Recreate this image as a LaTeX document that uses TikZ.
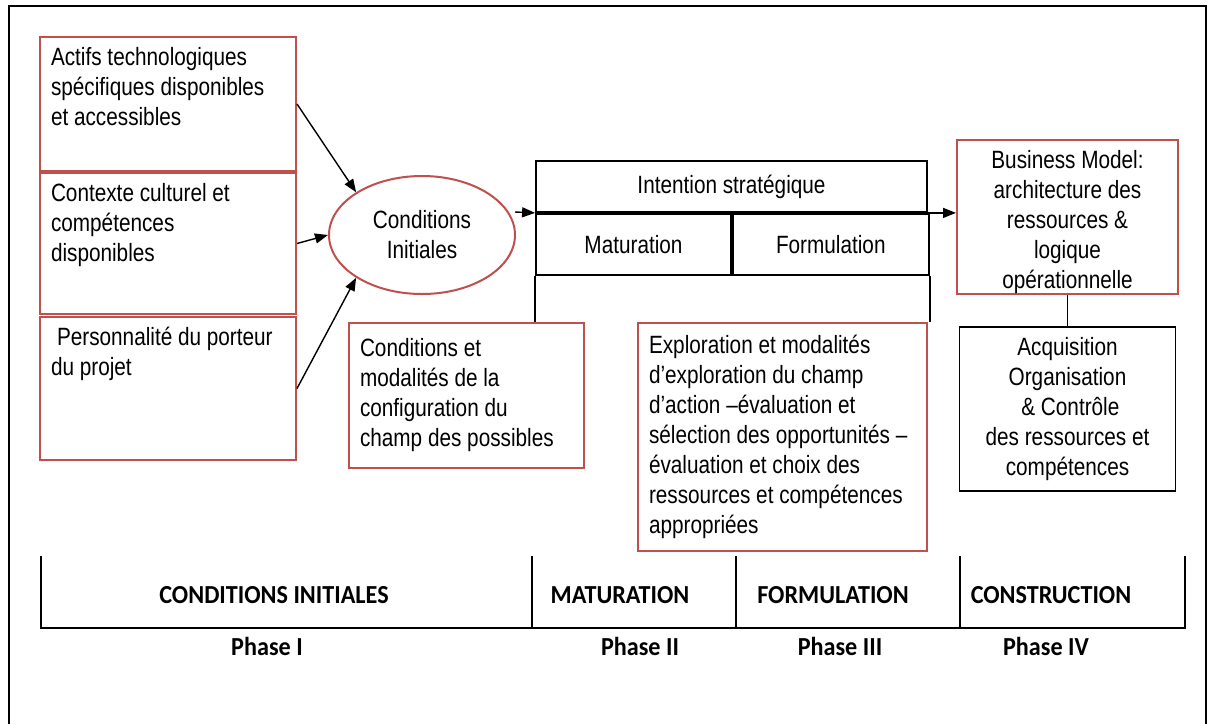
\documentclass[tikz,border=0pt]{standalone}
\usepackage{fontspec}
\setmainfont[FakeStretch=0.83]{Liberation Sans}
\newfontfamily\tablefont[FakeStretch=0.93]{Carlito}
\usepackage{tikz}
\usetikzlibrary{shapes.geometric, arrows.meta, positioning}
\definecolor{boxred}{HTML}{C0504D}
\newcommand{\toptext}[3]{\begin{minipage}[c][#2][t]{#1}#3\end{minipage}}

\begin{document}
\begin{tikzpicture}[x=1pt, y=-1pt, font=\fontsize{25}{30}\selectfont,
    redbox/.style={draw=boxred, line width=2pt, rectangle, inner xsep=11pt},
    blackbox/.style={draw=black, line width=1.8pt, rectangle, inner sep=0pt, align=center},
    phase/.style={font=\tablefont\bfseries\fontsize{26}{28}\selectfont},
    link/.style={-{Triangle[length=13pt, width=10pt]}, line width=1.4pt}]
\useasboundingbox (0,0) rectangle (1210,724);
\draw[line width=2pt] (9,724) -- (9,6) -- (1206,6) -- (1206,724);

% phase I: initial conditions
\node[redbox, inner ysep=10pt, minimum width=256pt, minimum height=134pt] (actifs) at (168,104) {\toptext{234pt}{114pt}{Actifs technologiques\\spécifiques disponibles\\et accessibles}};
\node[redbox, inner ysep=10pt, minimum width=256pt, minimum height=141pt, below=0pt of actifs] (contexte) {\toptext{234pt}{121pt}{Contexte culturel et\\compétences\\disponibles}};
\node[redbox, inner ysep=10pt, minimum width=256pt, minimum height=143pt, below=1pt of contexte] (perso) {\toptext{234pt}{123pt}{\hspace{6pt}Personnalité du porteur\\du projet}};
\node[ellipse, draw=boxred, line width=2pt, minimum width=186pt, minimum height=118pt, inner sep=0pt, align=center] (cond) at (422,235) {Conditions\\Initiales};
\foreach \a/\b in {actifs.east/cond.147, contexte.east/cond.west, perso.east/cond.213}
    \draw[link] (\a) -- (\b);

% phases II and III
\node[blackbox, minimum width=391pt, minimum height=51pt] (intent) at (731.5,186.5) {Intention stratégique};
\node[blackbox, minimum width=195pt, minimum height=61pt, anchor=north west] (matur) at (intent.south west) {Maturation};
\node[blackbox, minimum width=196pt, minimum height=61pt, anchor=north west] (formu) at (matur.north east) {Formulation};
\coordinate (ciout) at (515,212);
\draw[link] (ciout) -- (intent.south west);
\draw[line width=3pt] (intent.south west) -- (intent.south east);

\node[redbox, align=flush left, text width=213pt, minimum height=145pt] (condmod) at (466.5,395.5) {Conditions et\\modalités de la\\configuration du\\champ des possibles};
\node[redbox, align=flush left, text width=267pt, minimum height=228pt] (explo) at (782.5,437) {Exploration et modalités\\d’exploration du champ\\d’action –évaluation et\\sélection des opportunités –\\évaluation et choix des\\ressources et compétences\\appropriées};
\draw[line width=1.8pt] (matur.south west) -- (condmod.north -| matur.south west);
\draw[line width=1.8pt] (formu.south east) -- (explo.north -| formu.south east);

% phase IV
\node[redbox, inner sep=0pt, minimum width=221pt, minimum height=154pt] (bm) at (1067.5,217) {\begin{minipage}[c][154pt][c]{221pt}\centering\vspace*{10pt}Business Model:\\architecture des\\ressources \&\\logique\\opérationnelle\end{minipage}};
\node[blackbox, minimum width=216pt, minimum height=164pt, below=31pt of bm.south, anchor=north] (acq) {Acquisition\\Organisation\\\ \& Contrôle\\des ressources et\\compétences};
\draw[link] (intent.south east) -- (bm.west |- intent.south east);
\draw[line width=1.8pt] (bm.south) -- (bm.south |- acq.north);

% time line
\draw[line width=1.8pt] (41,556) -- (41,628);
\draw[line width=1.8pt] (1185,556) -- (1185,628);
\foreach \x in {532,736,960}
    \draw[line width=1.8pt] (\x,556) -- (\x,628);
\draw[line width=2.6pt] (40,628) -- (1186,628);
\node[phase] (ci) at (274,595) {CONDITIONS INITIALES};
\node[phase] (mat) at (620,595) {MATURATION};
\node[phase] (form) at (833,595) {FORMULATION};
\node[phase] (constr) at (1051,595) {CONSTRUCTION};
\node[phase] (p1) at (267,646) {Phase I};
\node[phase] (p2) at (640,646) {Phase II};
\node[phase] (p3) at (840,646) {Phase III};
\node[phase] (p4) at (1046,646) {Phase IV};
\end{tikzpicture}
\end{document}
